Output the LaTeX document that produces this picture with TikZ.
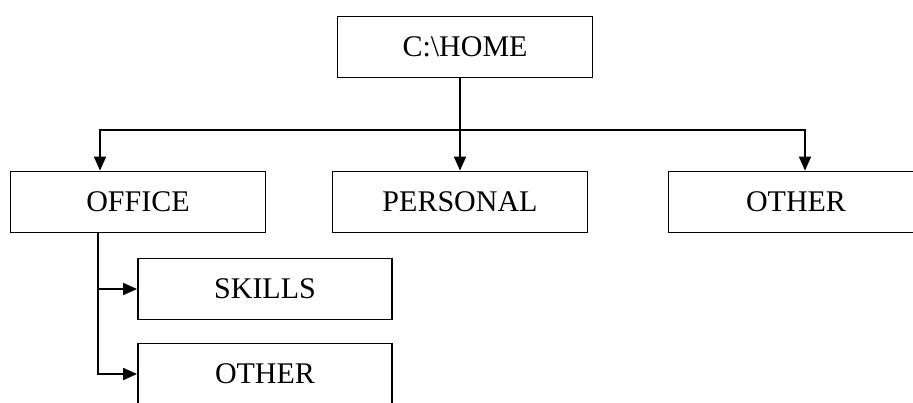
\documentclass[tikz,border=0pt]{standalone}
\usepackage{fontspec}
\setmainfont{Liberation Serif}
\usetikzlibrary{arrows.meta}

\begin{document}
\begin{tikzpicture}
		[x=1pt,y=-1pt,every node/.style={inner sep=0pt},
		 dirtip/.tip={Triangle[length=14pt,width=12pt]},
		 dirbox/.style={rectangle, draw=black, line width=1.8pt, minimum width=255pt, minimum height=61pt, font=\fontsize{30}{36}\selectfont},
		 link/.style={line width=1.8pt, color=black, -dirtip}]
		\useasboundingbox (0,0) rectangle (913,402);
		\node (home) [dirbox] at (465, 47) {C:\textbackslash HOME};
		\node (office) [dirbox] at (138, 202) {OFFICE};
		\node (personal) [dirbox] at (460, 202) {PERSONAL};
		\node (other) [dirbox] at (796, 202) {OTHER};
		\node (skills) [dirbox, minimum width=254pt] at (265, 289) {SKILLS};
		\node (otherb) [dirbox, minimum width=254pt] at (265, 374) {OTHER};
		\coordinate (lbus) at (100, 130);
		\coordinate (rbus) at (805, 130);
		\coordinate (tap) at (98, 0);
		\draw [link] (home.south -| personal.north) to (personal.north);
		\draw [link, dirtip-dirtip] (lbus |- office.north) -- (lbus) -- (rbus) -- (rbus |- other.north);
		\draw [link] (tap |- office.south) |- (skills.west);
		\draw [link] (tap |- office.south) |- (otherb.west);
\end{tikzpicture}
\end{document}
